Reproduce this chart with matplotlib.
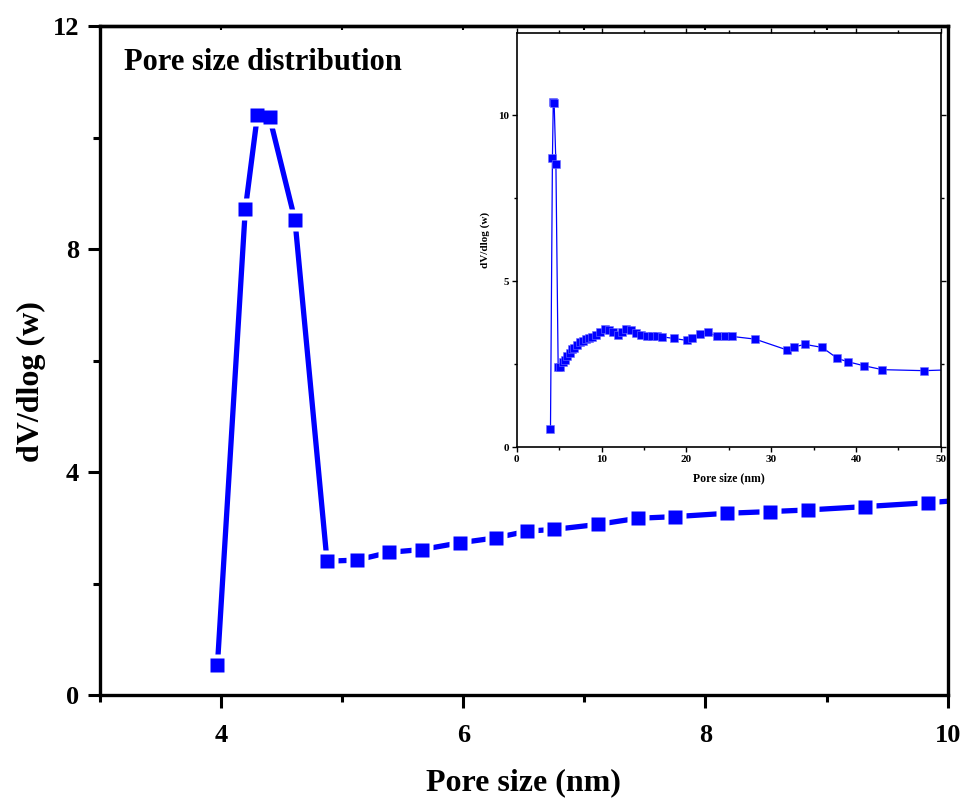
import matplotlib
matplotlib.use("Agg")
import matplotlib.pyplot as plt
from matplotlib.ticker import MultipleLocator

plt.rcParams['font.family'] = ['Liberation Serif', 'DejaVu Serif']
plt.rcParams['font.weight'] = 'bold'

# pore size (nm) and dV/dlog(w)
pore_size = [3.97, 4.20, 4.30, 4.40, 4.61, 4.875, 5.12, 5.39, 5.66, 5.97,
             6.27, 6.53, 6.75, 7.11, 7.44, 7.75, 8.18, 8.53, 8.85, 9.32,
             9.84, 10.4, 10.9, 11.4, 11.9, 12.4, 12.9, 13.5, 14.1, 14.7,
             15.3, 15.9, 16.5, 17.1, 18.5, 20.1, 20.7, 21.6, 22.6, 23.6,
             24.6, 25.4, 28.1, 31.9, 32.7, 34.0, 36.0, 37.8, 39.0, 40.9,
             43.1, 48.0, 54.0]
dv_dlog = [0.54, 8.71, 10.40, 10.37, 8.52, 2.40, 2.42, 2.56, 2.61, 2.73,
           2.82, 2.94, 2.97, 3.06, 3.17, 3.20, 3.26, 3.29, 3.32, 3.38,
           3.45, 3.54, 3.52, 3.45, 3.38, 3.47, 3.55, 3.53, 3.44, 3.38,
           3.35, 3.33, 3.33, 3.32, 3.27, 3.21, 3.29, 3.40, 3.45, 3.33,
           3.34, 3.33, 3.25, 2.92, 3.02, 3.09, 3.00, 2.67, 2.57, 2.45,
           2.33, 2.30, 2.35]

blue = '#0000ff'

fig = plt.figure(figsize=(9.66, 8.06), dpi=100)

# --- main axes ---
ax = fig.add_axes([0.1035, 0.1377, 0.8775, 0.830])
ax.plot(pore_size, dv_dlog, color=blue, lw=3.8, zorder=2)
# white squares under the blue ones leave the gaps in the line
ax.plot(pore_size, dv_dlog, ls='none', marker='s', ms=16, mfc='white',
        mec='none', zorder=3)
ax.plot(pore_size, dv_dlog, ls='none', marker='s', ms=10.5, mfc=blue,
        mec='none', zorder=4)

ax.set_xlim(3, 10)
ax.set_ylim(0, 12)
ax.xaxis.set_major_locator(MultipleLocator(2))
ax.xaxis.set_minor_locator(MultipleLocator(1))
ax.yaxis.set_major_locator(MultipleLocator(4))
ax.yaxis.set_minor_locator(MultipleLocator(2))
ax.tick_params(which='major', direction='out', length=9, width=2.2,
               labelsize=19, pad=6)
ax.tick_params(which='minor', direction='out', length=5, width=2.2)
ax.tick_params(axis='x', which='major', pad=12)

# small inward marks on the top spine
sec = ax.secondary_xaxis('top')
sec.xaxis.set_major_locator(MultipleLocator(1))
sec.tick_params(direction='in', length=3, width=1.5, labeltop=False)
sec.spines['top'].set_linewidth(2.4)
for s in ax.spines.values():
    s.set_linewidth(2.4)
for lab in ax.get_xticklabels() + ax.get_yticklabels():
    lab.set_fontweight('bold')

ax.set_xlabel('Pore size (nm)', fontsize=23, fontweight='bold')
ax.set_ylabel('dV/dlog (w)', fontsize=23, fontweight='bold')
ax.xaxis.set_label_coords(0.5, -0.110)
ax.yaxis.set_label_coords(-0.064, 0.468)
ax.text(0.028, 0.945, 'Pore size distribution', transform=ax.transAxes,
        fontsize=22, fontweight='bold', va='center', ha='left')

# --- inset ---
ins = fig.add_axes([0.535, 0.4454, 0.439, 0.5136])
ins.plot(pore_size, dv_dlog, color=blue, lw=0.9, marker='s', ms=5.2,
         mfc=blue, mec='#6f6fff', mew=0.4)
ins.set_xlim(0, 50)
ins.set_ylim(0, 12.47)
ins.xaxis.set_major_locator(MultipleLocator(10))
ins.xaxis.set_minor_locator(MultipleLocator(5))
ins.yaxis.set_major_locator(MultipleLocator(5))
ins.yaxis.set_minor_locator(MultipleLocator(2.5))
ins.tick_params(which='major', direction='out', length=3.5, width=1,
                labelsize=8, pad=2)
ins.tick_params(which='minor', direction='out', length=2, width=1)
ins.tick_params(which='both', top=True, right=True)
for s in ins.spines.values():
    s.set_linewidth(1.2)
for lab in ins.get_xticklabels() + ins.get_yticklabels():
    lab.set_fontweight('bold')
ins.set_xlabel('Pore size (nm)', fontsize=8.5, fontweight='bold', labelpad=6)
ins.set_ylabel('dV/dlog (w)', fontsize=8, fontweight='bold', labelpad=6)

fig.savefig('out.png', dpi=100)
